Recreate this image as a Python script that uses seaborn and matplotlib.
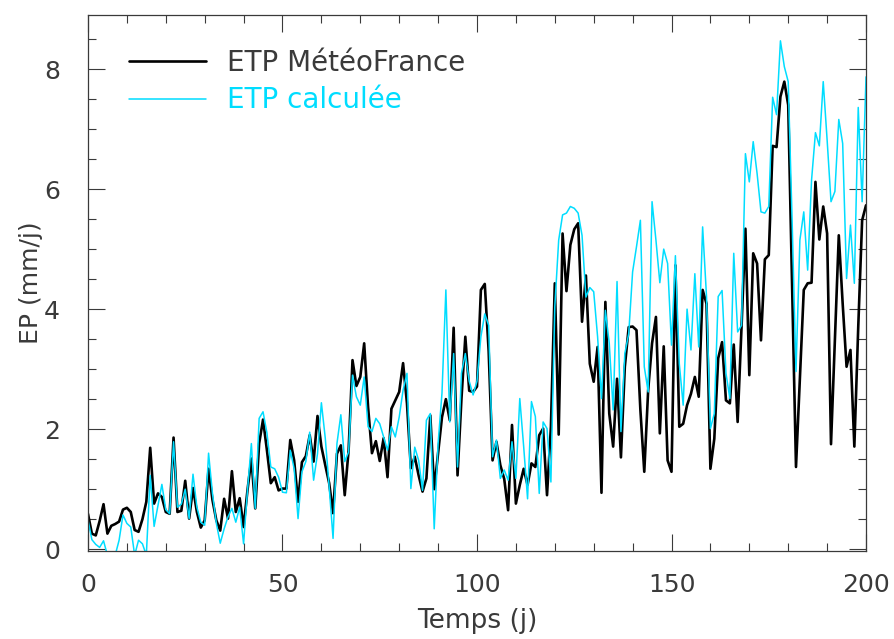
import numpy as np
import pandas as pd
import matplotlib
matplotlib.use("Agg")
import matplotlib.pyplot as plt
from matplotlib.ticker import MultipleLocator
import seaborn as sns

sns.set_style("ticks")
plt.rcParams['font.family'] = ['DejaVu Sans']

# daily values, days 0..200
etp_meteofrance = [
    0.59, 0.26, 0.23, 0.47, 0.75, 0.26, 0.39, 0.42, 0.46, 0.66,
    0.69, 0.62, 0.32, 0.29, 0.50, 0.79, 1.69, 0.76, 0.93, 0.87,
    0.62, 0.59, 1.86, 0.62, 0.64, 1.14, 0.51, 1.02, 0.62, 0.36,
    0.48, 1.34, 0.82, 0.48, 0.31, 0.84, 0.51, 1.30, 0.62, 0.85,
    0.37, 0.98, 1.51, 0.68, 1.76, 2.16, 1.65, 1.10, 1.20, 0.98,
    1.01, 1.01, 1.82, 1.48, 0.79, 1.45, 1.55, 1.90, 1.46, 2.22,
    1.71, 1.40, 1.10, 0.60, 1.59, 1.73, 0.90, 1.65, 3.15, 2.72,
    2.87, 3.43, 2.37, 1.60, 1.80, 1.47, 1.85, 1.20, 2.34, 2.48,
    2.62, 3.10, 2.43, 1.35, 1.54, 1.23, 0.96, 1.18, 2.23, 1.00,
    1.60, 2.20, 2.50, 2.15, 3.69, 1.23, 2.50, 3.54, 2.64, 2.62,
    2.71, 4.32, 4.42, 3.30, 1.48, 1.79, 1.40, 1.17, 0.65, 2.07,
    0.76, 1.07, 1.34, 1.07, 1.43, 1.37, 1.90, 2.01, 0.90, 2.04,
    4.43, 1.91, 5.26, 4.30, 5.07, 5.33, 5.43, 3.79, 4.56, 3.09,
    2.79, 3.37, 0.94, 4.12, 2.26, 1.71, 2.84, 1.53, 3.04, 3.70,
    3.71, 3.65, 2.32, 1.29, 2.65, 3.43, 3.87, 1.93, 3.38, 1.48,
    1.29, 4.73, 2.04, 2.09, 2.40, 2.59, 2.87, 2.54, 4.32, 4.09,
    1.34, 1.84, 3.18, 3.45, 2.48, 2.43, 3.41, 2.12, 3.70, 5.34,
    2.90, 4.93, 4.76, 3.48, 4.83, 4.90, 6.72, 6.70, 7.54, 7.79,
    7.40, 4.40, 1.37, 2.85, 4.32, 4.43, 4.44, 6.12, 5.16, 5.71,
    5.26, 1.75, 3.50, 5.23, 4.09, 3.04, 3.32, 1.71, 3.70, 5.48,
    5.73,
]

etp_calculee = [
    0.49, 0.16, 0.08, 0.03, 0.14, -0.1, -0.1, -0.1, 0.15, 0.57,
    0.43, 0.37, -0.1, 0.15, 0.09, -0.1, 1.23, 0.38, 0.73, 1.08,
    0.66, 0.59, 1.79, 0.70, 0.75, 1.00, 0.51, 1.25, 0.70, 0.45,
    0.40, 1.60, 0.93, 0.43, 0.10, 0.34, 0.54, 0.68, 0.45, 0.70,
    0.09, 0.98, 1.76, 0.68, 2.18, 2.29, 1.94, 1.37, 1.34, 1.20,
    0.95, 0.94, 1.65, 1.34, 0.51, 1.29, 1.46, 1.95, 1.15, 1.59,
    2.44, 1.85, 1.04, 0.18, 1.76, 2.24, 1.46, 1.62, 2.90, 2.54,
    2.40, 2.87, 2.04, 1.96, 2.18, 2.09, 1.87, 1.65, 2.04, 1.87,
    2.20, 2.65, 2.93, 1.01, 1.70, 1.48, 0.98, 2.15, 2.26, 0.34,
    1.76, 2.60, 4.32, 2.12, 3.26, 1.37, 2.93, 3.26, 2.80, 2.57,
    2.80, 3.54, 3.92, 3.73, 1.54, 1.82, 1.18, 1.32, 1.15, 1.79,
    1.18, 2.51, 1.71, 0.84, 2.46, 2.21, 0.93, 2.12, 2.01, 1.12,
    4.04, 5.15, 5.57, 5.60, 5.71, 5.68, 5.60, 5.23, 4.20, 4.36,
    4.29, 3.54, 2.51, 3.98, 3.43, 2.32, 4.46, 1.96, 3.26, 3.59,
    4.62, 5.04, 5.48, 3.04, 2.62, 5.79, 5.15, 4.44, 5.00, 4.76,
    3.40, 4.89, 3.09, 2.40, 4.00, 3.32, 4.59, 3.37, 5.37, 4.21,
    2.01, 2.26, 4.21, 4.31, 2.93, 2.51, 4.93, 3.62, 3.73, 6.59,
    6.12, 6.79, 6.26, 5.62, 5.60, 5.71, 7.53, 7.24, 8.47, 8.04,
    7.79, 5.48, 2.96, 5.15, 5.62, 4.65, 6.15, 6.94, 6.72, 7.79,
    6.82, 5.79, 5.96, 7.16, 6.76, 4.51, 5.40, 4.43, 7.36, 5.79,
    7.87,
]

days = np.arange(len(etp_meteofrance))
CYAN = "#00DDFF"
TXT = "#3a3a3a"

df = pd.DataFrame({"jour": days, "mf": etp_meteofrance, "calc": etp_calculee})

fig = plt.figure(figsize=(8.94, 6.39), dpi=100)
ax = fig.add_axes([0.0984, 0.1377, 0.8703, 0.8388])

sns.lineplot(data=df, x="jour", y="mf", ax=ax, color="black", lw=1.9,
             label="ETP MétéoFrance")
sns.lineplot(data=df, x="jour", y="calc", ax=ax, color=CYAN, lw=1.1,
             label="ETP calculée")

ax.set_xlim(0, 200)
ax.set_ylim(-0.03, 8.9)
ax.xaxis.set_major_locator(MultipleLocator(50))
ax.xaxis.set_minor_locator(MultipleLocator(10))
ax.yaxis.set_major_locator(MultipleLocator(2))
ax.yaxis.set_minor_locator(MultipleLocator(0.5))
ax.tick_params(which="both", direction="in", top=True, right=True,
               color=TXT, width=0.8, labelcolor=TXT, labelsize=18)
ax.tick_params(which="major", length=12)
ax.tick_params(axis="x", which="major", pad=16)
ax.tick_params(axis="y", which="major", pad=20)
ax.tick_params(which="minor", length=6)
for s in ax.spines.values():
    s.set_color(TXT)
    s.set_linewidth(0.9)

ax.set_xlabel("Temps (j)", fontsize=19, color=TXT, labelpad=8)
ax.set_ylabel("EP (mm/j)", fontsize=18, color=TXT, labelpad=1)

leg = ax.legend(loc="upper left", bbox_to_anchor=(0.038, 0.958), frameon=False,
                fontsize=20, handlelength=2.8, handletextpad=0.75,
                labelspacing=0.35, borderaxespad=0)
for txt, col in zip(leg.get_texts(), [TXT, CYAN]):
    txt.set_color(col)

fig.savefig("out.png", dpi=100)
